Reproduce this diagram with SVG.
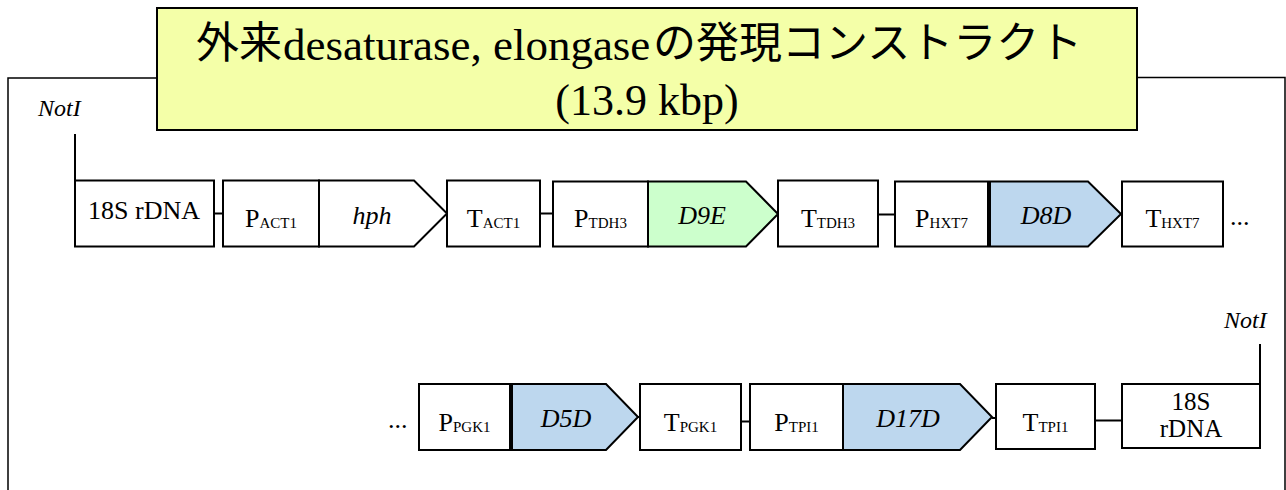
<svg xmlns="http://www.w3.org/2000/svg" width="1286" height="490" viewBox="0 0 1286 490">
<style>
.box{fill:#fff;stroke:#000;stroke-width:2}
.arrowg{stroke:#000;stroke-width:2}
.green{fill:#ccffcc}
.blue{fill:#bdd7ee}
.white{fill:#fff}
.ln{fill:none;stroke:#000;stroke-width:2}
.fr{fill:none;stroke:#000;stroke-width:1.5}
.t{font-family:"Liberation Serif","Times New Roman",serif;font-size:26px;fill:#000}
.c{text-anchor:middle}
.i{font-style:italic}
.sub{font-size:15px}
.title{fill:#f4ffa8;stroke:#000;stroke-width:2}
.lat{font-family:"Liberation Serif",serif;fill:#000}
.cjk{font-family:"Noto Sans CJK JP",sans-serif;font-size:43px}
</style>

<g id="connectors">
  <polyline class="fr" points="157,78 8,78 8,490"/>
  <polyline class="fr" points="1137,77.5 1285,77.5 1285,490"/>
  <line class="ln" x1="75" y1="134" x2="75" y2="181"/>
  <line class="ln" x1="1260" y1="344" x2="1260" y2="384"/>
  <line class="ln" x1="214" y1="213.5" x2="223" y2="213.5"/>
  <line class="ln" x1="540" y1="213.5" x2="553" y2="213.5"/>
  <line class="ln" x1="878" y1="214.5" x2="895" y2="214.5"/>
  <line class="ln" x1="638" y1="417" x2="640" y2="417"/>
  <line class="ln" x1="741" y1="421.5" x2="750" y2="421.5"/>
  <line class="ln" x1="992" y1="418" x2="996" y2="418"/>
  <line class="ln" x1="1095" y1="420.5" x2="1122" y2="420.5"/>
</g>

<g id="title">
  <rect class="title" x="157" y="8" width="980" height="122"/>
  <text class="lat" y="60" font-size="45"><tspan class="cjk" x="196" y="58">外来</tspan><tspan class="lat" x="283" y="60" font-size="45">desaturase, elongase</tspan><tspan class="cjk" x="653" y="58">の発現コンストラクト</tspan></text>
  <text class="lat c" x="647" y="115" font-size="44">(13.9 kbp)</text>
</g>

<g id="notI-left">
  <text class="t i" x="38" y="116" style="font-size:24px">NotI</text>
</g>
<g id="notI-right">
  <text class="t i" x="1224" y="328" style="font-size:24px">NotI</text>
</g>

<g id="rdna1">
  <rect class="box" x="75" y="180.5" width="139" height="66"/>
  <text class="t c" x="144" y="219">18S rDNA</text>
</g>
<g id="pact1">
  <rect class="box" x="223" y="180.5" width="96" height="66"/>
  <text class="t c" x="271" y="227">P<tspan class="sub" dy="1">ACT1</tspan></text>
</g>
<g id="hph">
  <polygon class="arrowg white" points="319,180.5 414,180.5 447,213.5 414,246.5 319,246.5"/>
  <text class="t c i" x="372" y="224">hph</text>
</g>
<g id="tact1">
  <rect class="box" x="447" y="180.5" width="93" height="66"/>
  <text class="t c" x="493.5" y="227">T<tspan class="sub" dy="1">ACT1</tspan></text>
</g>
<g id="ptdh3">
  <rect class="box" x="553" y="181.5" width="95" height="65"/>
  <text class="t c" x="600.5" y="227">P<tspan class="sub" dy="1">TDH3</tspan></text>
</g>
<g id="d9e">
  <polygon class="arrowg green" points="648,181.5 746,181.5 778,214 746,246.5 648,246.5"/>
  <text class="t c i" x="702" y="224">D9E</text>
</g>
<g id="ttdh3">
  <rect class="box" x="778" y="180.5" width="100" height="66"/>
  <text class="t c" x="828" y="227">T<tspan class="sub" dy="1">TDH3</tspan></text>
</g>
<g id="phxt7">
  <rect class="box" x="895" y="181.5" width="93" height="65"/>
  <text class="t c" x="941.5" y="227">P<tspan class="sub" dy="1">HXT7</tspan></text>
</g>
<g id="d8d">
  <polygon class="arrowg blue" points="990,181.5 1088,181.5 1121,214 1088,246.5 990,246.5"/>
  <text class="t c i" x="1046" y="224">D8D</text>
</g>
<g id="thxt7">
  <rect class="box" x="1122" y="181.5" width="101" height="65"/>
  <text class="t c" x="1172.5" y="227">T<tspan class="sub" dy="1">HXT7</tspan></text>
</g>
<g id="dots1">
  <text class="t" x="1230" y="225">...</text>
</g>

<g id="dots2">
  <text class="t" x="388" y="428">...</text>
</g>
<g id="ppgk1">
  <rect class="box" x="419" y="384" width="91" height="66"/>
  <text class="t c" x="464.5" y="431">P<tspan class="sub" dy="1">PGK1</tspan></text>
</g>
<g id="d5d">
  <polygon class="arrowg blue" points="512,384 606,384 638,417 606,450 512,450"/>
  <text class="t c i" x="566" y="427">D5D</text>
</g>
<g id="tpgk1">
  <rect class="box" x="640" y="384" width="101" height="66"/>
  <text class="t c" x="690.5" y="431">T<tspan class="sub" dy="1">PGK1</tspan></text>
</g>
<g id="ptpi1">
  <rect class="box" x="750" y="384" width="93" height="66"/>
  <text class="t c" x="796.5" y="431">P<tspan class="sub" dy="1">TPI1</tspan></text>
</g>
<g id="d17d">
  <polygon class="arrowg blue" points="843,384 960,384 992,417 960,450 843,450"/>
  <text class="t c i" x="908" y="427">D17D</text>
</g>
<g id="ttpi1">
  <rect class="box" x="996" y="384" width="99" height="65"/>
  <text class="t c" x="1045.5" y="431">T<tspan class="sub" dy="1">TPI1</tspan></text>
</g>
<g id="rdna2">
  <rect class="box" x="1122" y="384" width="138" height="64"/>
  <text class="t c" x="1191" y="410" style="font-size:25px">18S</text>
  <text class="t c" x="1191" y="437" style="font-size:25px">rDNA</text>
</g>
</svg>
